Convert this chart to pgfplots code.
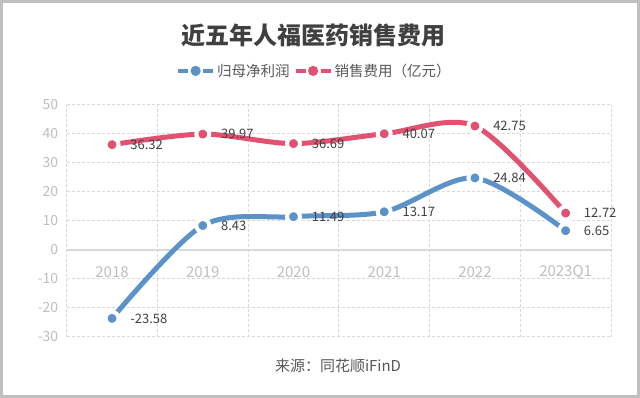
\documentclass[border=0pt]{standalone}
\usepackage{pgfplots}
\pgfplotsset{compat=1.18}
\usepackage{fontspec}
\setmainfont{Noto Sans CJK SC}
\definecolor{cblue}{HTML}{5B93C8}
\definecolor{cred}{HTML}{E05270}
\definecolor{gridc}{HTML}{D9D9D9}
\definecolor{tickc}{HTML}{BFBFBF}
\definecolor{labc}{HTML}{404040}
\begin{document}
\begin{tikzpicture}
\fill[white] (0,0) rectangle (640pt,398pt);
\draw[line width=3pt, color=black!25] (1.5pt,1.5pt) rectangle (638.5pt,396.5pt);
\node[font=\fontsize{24}{28}\selectfont\bfseries, text=black!75] at (313.5pt,363pt) {近五年人福医药销售费用};
\node[font=\fontsize{15}{18}\selectfont, text=black!65] at (338pt,32pt) {来源：同花顺iFinD};
\begin{axis}[
 at={(66.7pt,61pt)}, anchor=south west, scale only axis, width=544.3pt, height=232pt,
 xmin=-0.5, xmax=5.5, ymin=-30, ymax=50,
 axis line style={draw=none},
 xtick={0,...,5}, xticklabels={2018,2019,2020,2021,2022,2023Q1},
 minor xtick={-0.5,0.5,...,5.5},
 xminorgrids,
 minor grid style={gridc, line width=1pt, dash pattern=on 3pt off 2pt},
 ytick={-30,-20,...,50}, ymajorgrids,
 major grid style={gridc, line width=1pt, dash pattern=on 3pt off 2pt},
 extra y ticks={0}, extra y tick labels={},
 extra y tick style={major grid style={solid, gridc, line width=1.5pt}},
 major tick length=0pt, minor tick length=0pt,
 tick label style={text=tickc},
 /pgf/number format/assume math mode=true,
 xticklabel style={anchor=center, yshift=65pt, font=\fontsize{15}{17}\selectfont},
 yticklabel style={xshift=-5pt, font=\fontsize{14}{16}\selectfont},
 nodes near coords={\pgfmathprintnumber[fixed,fixed zerofill,precision=2]{\pgfplotspointmeta}},
 every node near coord/.style={anchor=west, xshift=13pt, text=labc, font=\fontsize{13}{15}\selectfont},
 legend style={at={(axis description cs:0.455,1.147)}, anchor=center, draw=none, fill=none,
   legend columns=2, font=\fontsize{14.5}{17}\selectfont, text=black!65,
   /tikz/every even column/.append style={column sep=2pt}},
 legend cell align=left,
 legend image code/.code={\path[draw, line width=4pt, solid] (0pt,0pt)--(10pt,0pt); \path[fill] (17.5pt,0pt) circle[radius=2.4pt]; \path[draw, line width=4pt, solid] (25pt,0pt)--(35pt,0pt);},
]
\addplot[cblue, line width=5pt, smooth, mark=*, mark size=6.5pt,
  mark options={draw=white, fill=cblue, line width=4pt, solid}]
  coordinates {(0,-23.58) (1,8.43) (2,11.49) (3,13.17) (4,24.84) (5,6.65)};
\addlegendentry{归母净利润}
\addplot[cred, line width=5pt, smooth, mark=*, mark size=6.5pt,
  mark options={draw=white, fill=cred, line width=4pt, solid}]
  coordinates {(0,36.32) (1,39.97) (2,36.69) (3,40.07) (4,42.75) (5,12.72)};
\addlegendentry{销售费用（亿元）}
\end{axis}
\end{tikzpicture}
\end{document}
